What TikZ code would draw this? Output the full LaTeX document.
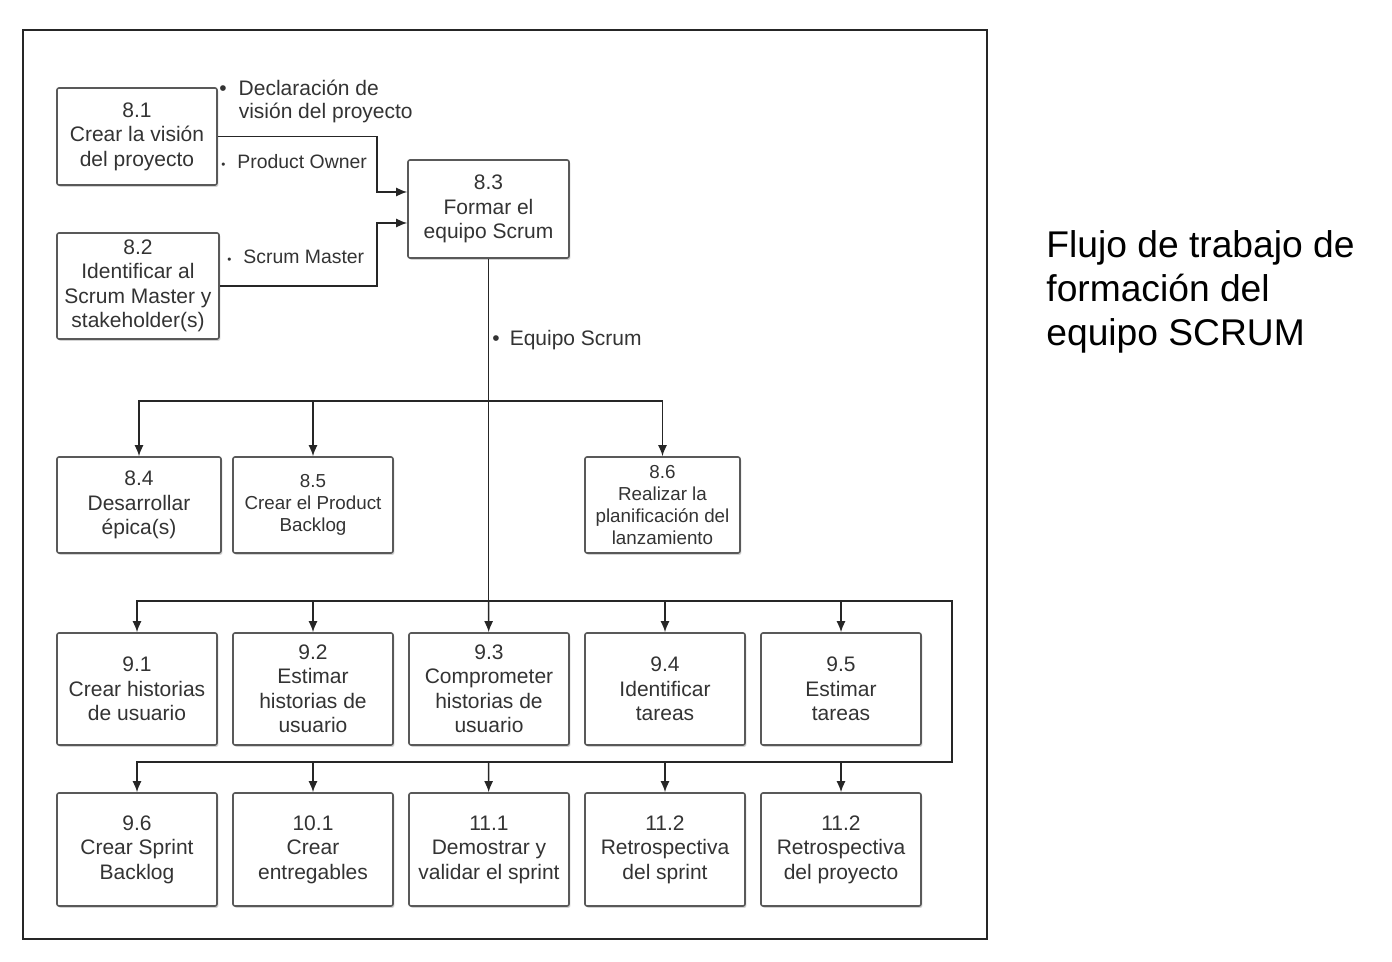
\documentclass[tikz,border=0pt]{standalone}
\usepackage{fontspec}
\setmainfont{Liberation Sans}
\usetikzlibrary{arrows.meta,calc,shadows}
\begin{document}
\begin{tikzpicture}[x=0.5pt,y=-0.5pt,
  box/.style={draw=black!65, line width=0.8pt, rounded corners=1pt, fill=white,
    align=center, inner sep=1pt, text=black!80,
    font=\fontsize{10.5}{12.25}\selectfont,
    drop shadow={shadow xshift=0.7pt, shadow yshift=-0.9pt, opacity=0.35}},
  smallbox/.style={box, font=\fontsize{9.4}{11}\selectfont},
  conn/.style={draw=black!85, line width=0.75pt},
  arr/.style={conn, -{Latex[length=5.5pt,width=4.5pt]}},
  lbl/.style={anchor=west, inner sep=0pt, text=black!80, font=\fontsize{10.5}{12.25}\selectfont, align=left},
  slbl/.style={lbl, font=\fontsize{9.7}{11.5}\selectfont},
  title/.style={anchor=west, inner sep=0pt, align=left, font=\fontsize{18.6}{22}\selectfont}
]
\useasboundingbox (0,0) rectangle (1392,962);
\draw[line width=1.4pt, draw=black!85] (23,30) rectangle (987,939);

% top boxes
\node[box, minimum width=80pt, minimum height=48.5pt] (n81) at (137,136.5) {8.1\\Crear la visión\\del proyecto};
\node[box, minimum width=81pt, minimum height=53pt] (n82) at (138,286) {8.2\\Identificar al\\Scrum Master y\\stakeholder(s)};
\node[box, minimum width=80.5pt, minimum height=49pt] (n83) at (488.5,209) {8.3\\Formar el\\equipo Scrum};

% second row
\node[box, minimum width=82pt, minimum height=48pt] (n84) at (139,505) {8.4\\Desarrollar\\épica(s)};
\node[smallbox, minimum width=80pt, minimum height=48pt] (n85) at (313,505) {8.5\\Crear el Product\\Backlog};
\node[smallbox, minimum width=77.5pt, minimum height=48pt] (n86) at (662.5,505) {8.6\\Realizar la\\planificación del\\lanzamiento};

% row 9
\foreach \n/\x/\t in {n91/137/{9.1\\Crear historias\\de usuario},
                       n92/313/{9.2\\Estimar\\historias de\\usuario},
                       n93/489/{9.3\\Comprometer\\historias de\\usuario},
                       n94/665/{9.4\\Identificar\\tareas},
                       n95/841/{9.5\\Estimar\\tareas}}
  \node[box, minimum width=80pt, minimum height=56pt] (\n) at (\x,689) {\t};

% bottom row
\foreach \n/\x/\t in {n96/137/{9.6\\Crear Sprint\\Backlog},
                       n101/313/{10.1\\Crear\\entregables},
                       n111/489/{11.1\\Demostrar y\\validar el sprint},
                       n112/665/{11.2\\Retrospectiva\\del sprint},
                       n112b/841/{11.2\\Retrospectiva\\del proyecto}}
  \node[box, minimum width=80pt, minimum height=56.5pt] (\n) at (\x,849.5) {\t};

% connectors into 8.3
\draw[arr] (n81.east) -- ++(159,0) |- ($(n83.west)+(0,-17)$);
\draw[arr] (n82.east) -- ++(157,0) |- ($(n83.west)+(0,14)$);

% labels
\node[lbl] (l1) at (219,102) {\begin{tabular}{@{}l@{\hspace{6pt}}l@{}}\textbullet & Declaración de\\[-0.5pt] & visión del proyecto\end{tabular}};
\node[slbl] (l2) at (221,162) {\scalebox{0.6}{\textbullet}\hspace{6pt}Product Owner};
\node[slbl] (l3) at (227,257) {\scalebox{0.6}{\textbullet}\hspace{6pt}Scrum Master};
\node[lbl] (l4) at (492,340) {\textbullet\hspace{5pt}Equipo Scrum};

% junctions
\coordinate (j2) at (488.5,401);
\coordinate (j3) at (488.5,601);
\coordinate (jr) at (952,601);
\coordinate (j4) at (488.5,762);

\draw[conn] (n83.south) -- (j3);
\draw[arr] (j2) -| (n84);
\draw[arr] (j2) -| (n85);
\draw[arr] (j2) -| (n86);

\draw[conn] (j3) -- (jr) |- (j4);
\foreach \n in {n91,n92,n94,n95} \draw[arr] (j3) -| (\n);
\draw[arr] (j3) -- (n93);
\foreach \n in {n96,n101,n112,n112b} \draw[arr] (j4) -| (\n);
\draw[arr] (j4) -- (n111);

% title
\node[title] (t) at (1046,292) {Flujo de trabajo de\\formación del\\equipo SCRUM};
\end{tikzpicture}
\end{document}
